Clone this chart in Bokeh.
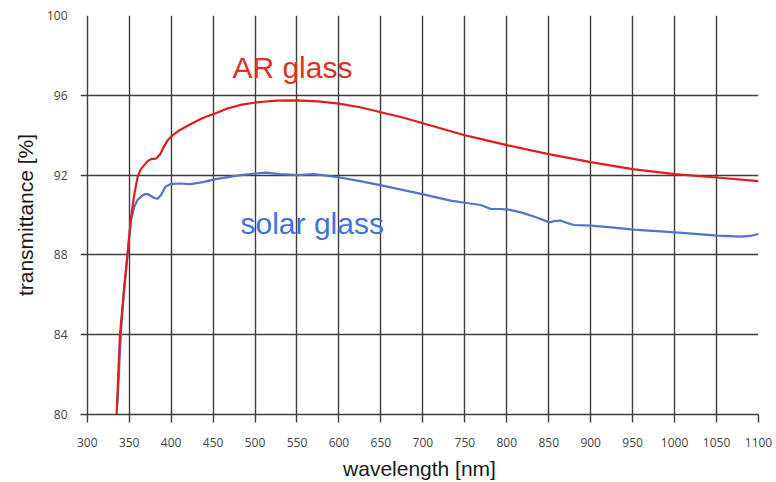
from bokeh.plotting import figure
from bokeh.models import Range1d, FixedTicker, Label
from bokeh.embed import file_html
from bokeh.resources import INLINE

# ---- data ----
x_ticks = [300, 350, 400, 450, 500, 550, 600, 650, 700, 750, 800, 850, 900, 950, 1000, 1050, 1100]
y_ticks = [80, 84, 88, 92, 96, 100]

ar_nm = [335, 339, 344, 348, 352, 356, 360, 364, 368, 372, 376, 382, 387, 391, 396, 401, 410, 423,
         437, 453, 468, 483, 500, 525, 550, 575, 600, 625, 650, 675, 700, 725, 750, 775, 800, 850,
         900, 950, 1000, 1050, 1100]
ar_t = [80.0, 84.0, 86.3, 88.0, 89.8, 91.0, 91.9, 92.3, 92.5, 92.7, 92.8, 92.83, 93.05, 93.4, 93.75,
        93.97, 94.25, 94.55, 94.85, 95.1, 95.35, 95.52, 95.64, 95.73, 95.75, 95.7, 95.58, 95.4, 95.15,
        94.9, 94.6, 94.3, 94.0, 93.75, 93.5, 93.05, 92.65, 92.3, 92.05, 91.88, 91.7]

solar_nm = [336, 340, 344, 348, 352, 356, 360, 365, 369, 372, 376, 380, 384, 388, 393, 399, 410, 423,
            438, 453, 468, 483, 500, 513, 530, 551, 570, 585, 601, 625, 652, 677, 702, 733, 752, 769,
            781, 792, 802, 817, 834, 851, 857, 864, 872, 880, 901, 925, 951, 1001, 1051, 1079, 1090, 1100]
solar_t = [80.5, 84.0, 86.3, 88.0, 89.7, 90.4, 90.75, 90.95, 91.05, 91.05, 90.95, 90.85, 90.82, 91.0,
           91.4, 91.55, 91.58, 91.55, 91.65, 91.8, 91.9, 92.0, 92.08, 92.12, 92.05, 92.0, 92.05, 91.97,
           91.88, 91.7, 91.47, 91.25, 91.02, 90.72, 90.6, 90.5, 90.3, 90.3, 90.27, 90.13, 89.9, 89.63,
           89.7, 89.72, 89.6, 89.5, 89.47, 89.38, 89.27, 89.13, 88.97, 88.92, 88.95, 89.05]

ar_label = "AR glass"
solar_label = "solar glass"

GRID = "#3c3c3c"

p = figure(width=776, height=482, output_backend="svg", toolbar_location=None,
           x_range=Range1d(292, 1100), y_range=Range1d(80, 100),
           min_border_left=80, min_border_right=18, min_border_top=15, min_border_bottom=67)
p.outline_line_color = None
p.background_fill_color = "white"
p.border_fill_color = "white"

# grid
p.xgrid.ticker = FixedTicker(ticks=x_ticks)
p.ygrid.ticker = FixedTicker(ticks=y_ticks)
for g in (p.xgrid, p.ygrid):
    g.grid_line_color = GRID
    g.grid_line_width = 1.4
    g.grid_line_alpha = 1.0

# x axis
xa = p.xaxis[0]
xa.ticker = FixedTicker(ticks=x_ticks)
xa.axis_line_color = GRID
xa.axis_line_width = 1.4
xa.major_tick_line_color = GRID
xa.major_tick_line_width = 1.4
xa.major_tick_out = 8
xa.major_tick_in = 0
xa.minor_tick_line_color = None
xa.major_label_text_font = "Open Sans"
xa.major_label_text_font_size = "12px"
xa.major_label_text_color = "#444444"
xa.major_label_standoff = 15
xa.axis_label = "wavelength [nm]"
xa.axis_label_text_font = "Liberation Sans"
xa.axis_label_text_font_size = "21px"
xa.axis_label_text_font_style = "normal"
xa.axis_label_text_color = "#1a1a1a"
xa.axis_label_standoff = 7

# y axis
ya = p.yaxis[0]
ya.ticker = FixedTicker(ticks=y_ticks)
ya.axis_line_color = None
ya.major_tick_line_color = None
ya.major_tick_out = 0
ya.major_tick_in = 0
ya.minor_tick_line_color = None
ya.major_label_text_font = "Open Sans"
ya.major_label_text_font_size = "12px"
ya.major_label_text_color = "#444444"
ya.major_label_standoff = 13
ya.axis_label = "transmittance [%]"
ya.axis_label_text_font = "Liberation Sans"
ya.axis_label_text_font_size = "21px"
ya.axis_label_text_font_style = "normal"
ya.axis_label_text_color = "#1a1a1a"
ya.axis_label_standoff = 7

# curves
p.line(solar_nm, solar_t, line_color="#5273c9", line_width=2.2)
p.line(ar_nm, ar_t, line_color="#e41b1b", line_width=2.2)

# labels
p.add_layout(Label(x=473, y=97.4, text=ar_label, text_color="#e0301c",
                   text_font="Liberation Sans", text_font_size="30px",
                   text_baseline="alphabetic", text_align="left"))
p.add_layout(Label(x=482.7, y=89.55, text=solar_label, text_color="#3e72e6",
                   text_font="Liberation Sans", text_font_size="30px",
                   text_baseline="alphabetic", text_align="left"))

open("out.html", "w").write(file_html(p, INLINE))
